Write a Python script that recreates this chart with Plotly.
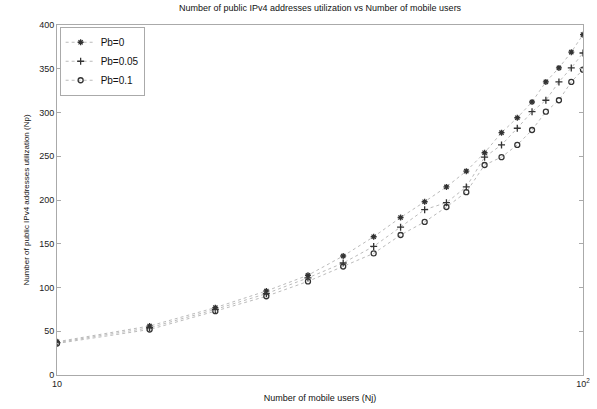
import plotly.graph_objects as go

users = [10, 15, 20, 25, 30, 35, 40, 45, 50, 55, 60, 65, 70, 75, 80, 85, 90, 95, 100]
pb_0 = [38, 56, 77, 96, 114, 136, 158, 180, 198, 215, 233, 254, 277, 294, 312, 335, 351, 369, 389]
pb_005 = [37, 54, 75, 93, 111, 128, 147, 169, 189, 197, 215, 249, 263, 282, 301, 314, 335, 351, 368]
pb_01 = [36, 52, 73, 90, 107, 124, 139, 160, 175, 192, 209, 240, 249, 263, 280, 301, 314, 335, 349]
labels = ["Pb=0", "Pb=0.05", "Pb=0.1"]
y_ticks = [0, 50, 100, 150, 200, 250, 300, 350, 400]
title_text = "Number of public IPv4 addresses utilization vs Number of mobile users"

series = [pb_0, pb_005, pb_01]
symbols = ["asterisk-open", "cross-thin-open", "circle-open"]

fig = go.Figure()
for name, vals, sym in zip(labels, series, symbols):
    fig.add_trace(go.Scatter(
        x=users, y=vals, name=name, mode="lines+markers",
        line=dict(color="#bbbbbb", width=1, dash="dot"),
        marker=dict(symbol=sym, size=5, color="#333333",
                    line=dict(color="#333333", width=1.3)),
    ))

axis_common = dict(showline=True, linecolor="#aaaaaa", linewidth=1, mirror="ticks",
                   ticks="inside", ticklen=4, tickcolor="#aaaaaa", showgrid=False,
                   zeroline=False, automargin=False,
                   tickfont=dict(family="Arial, Liberation Sans", size=9, color="#222222"))

fig.add_annotation(text=title_text, xref="paper", yref="paper", x=0.5, y=1,
                   xanchor="center", yanchor="bottom", yshift=10, showarrow=False,
                   font=dict(family="Arial, Liberation Sans", size=9, color="#111111"))

fig.update_layout(
    width=597, height=409, autosize=False,
    margin=dict(l=57, r=14, t=25, b=34, pad=0, autoexpand=False),
    paper_bgcolor="white", plot_bgcolor="white",
    xaxis=dict(type="log", range=[1, 2], tickvals=[10, 100], ticktext=["10", "10<sup>2</sup>"],
               title=dict(text="Number of mobile users (Nj)", standoff=6,
                          font=dict(family="Arial, Liberation Sans", size=9, color="#111111")),
               **axis_common),
    yaxis=dict(range=[0, 400], tickvals=y_ticks,
               title=dict(text="Number of public IPv4 addresses utilization (Np)", standoff=8,
                          font=dict(family="Arial, Liberation Sans", size=8, color="#111111")),
               **axis_common),
    legend=dict(x=0.005, y=0.995, xanchor="left", yanchor="top",
                bgcolor="white", bordercolor="#aaaaaa", borderwidth=1,
                font=dict(family="Arial, Liberation Sans", size=10, color="#111111"),
                itemwidth=30, tracegroupgap=0),
    showlegend=True,
)

fig.write_html("out.html", config={"displayModeBar": False},
               post_script="document.body.style.margin='0px';document.body.style.overflow='hidden';")
